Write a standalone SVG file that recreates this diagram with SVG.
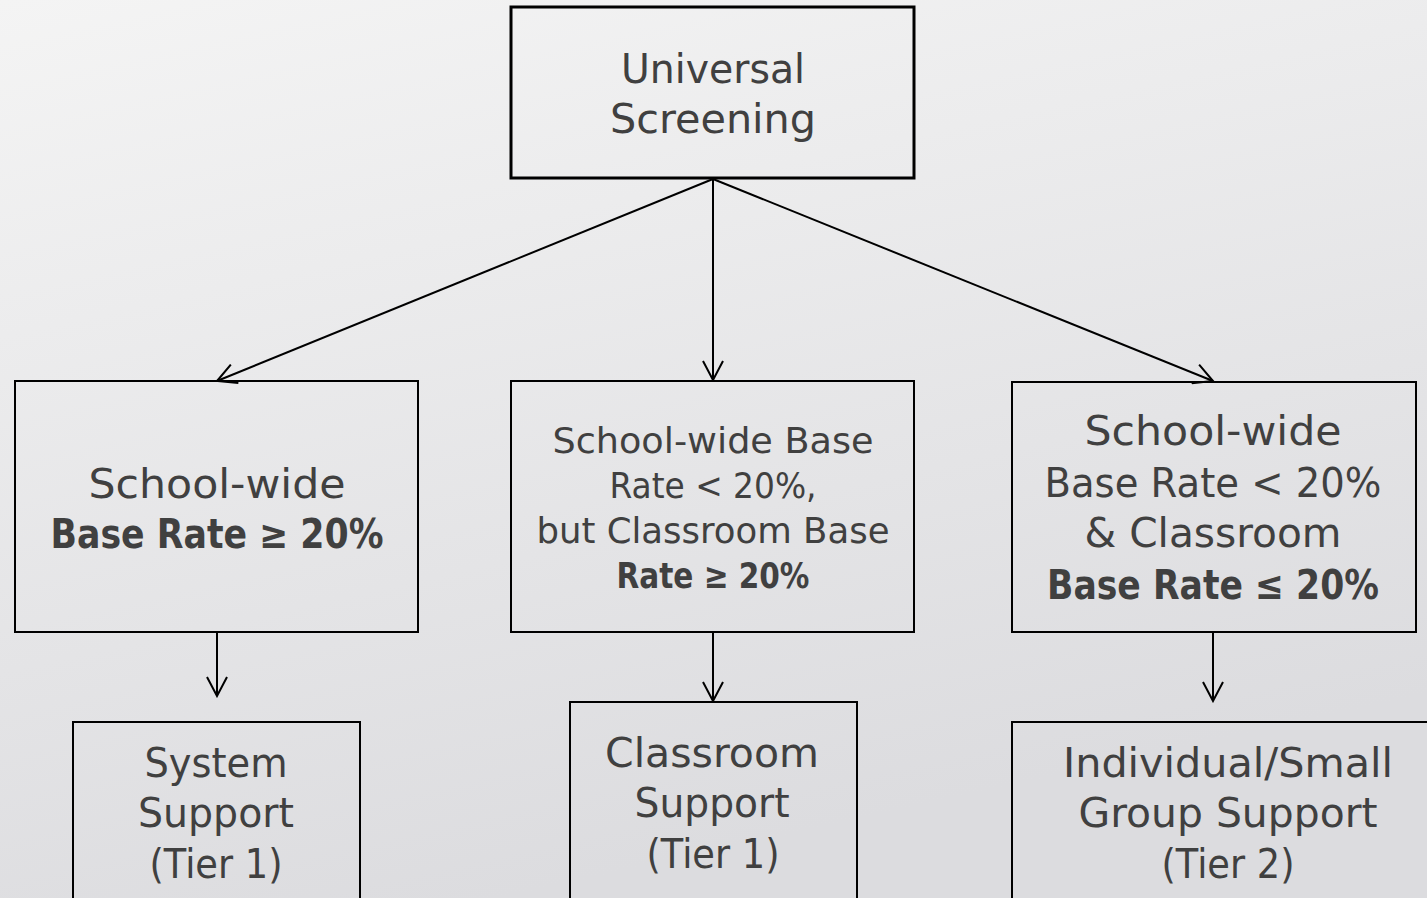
<svg xmlns="http://www.w3.org/2000/svg" width="1427" height="898" viewBox="0 0 1427 898">
  <defs>
    <linearGradient id="bg" x1="0" y1="0" x2="0.35" y2="1">
      <stop offset="0" stop-color="#f4f4f4"/>
      <stop offset="1" stop-color="#dcdcdf"/>
    </linearGradient>
    <marker id="arrow" markerUnits="userSpaceOnUse" viewBox="0 0 22 22" markerWidth="22" markerHeight="22" refX="20" refY="11" orient="auto">
      <path d="M1,1 L20,11 L1,21" fill="none" stroke="#000" stroke-width="2"/>
    </marker>
    <style>
      .box { fill: none; stroke: #000; stroke-width: 2; }
      .box-top { fill: none; stroke: #000; stroke-width: 3; }
      .lbl { font-family: "DejaVu Sans", "Liberation Sans", sans-serif; fill: #404040; text-anchor: middle; font-size: 40px; }
      .sm { font-size: 36px; }
      .b { font-weight: bold; }
      .edge { stroke: #000; stroke-width: 2; fill: none; marker-end: url(#arrow); }
    </style>
  </defs>

  <rect width="1427" height="898" fill="url(#bg)"/>

  <!-- connectors -->
  <g id="connectors">
    <line class="edge" x1="713" y1="179" x2="217" y2="381"/>
    <line class="edge" x1="713" y1="179" x2="713" y2="380"/>
    <line class="edge" x1="713" y1="179" x2="1213" y2="381"/>
    <line class="edge" x1="217" y1="632" x2="217" y2="696"/>
    <line class="edge" x1="713" y1="632" x2="713" y2="701"/>
    <line class="edge" x1="1213" y1="632" x2="1213" y2="701"/>
  </g>

  <g id="universal-screening">
    <rect class="box-top" x="511" y="7" width="403" height="171"/>
    <text class="lbl" x="713" y="83" textLength="184" lengthAdjust="spacingAndGlyphs">Universal</text>
    <text class="lbl" x="713" y="133" textLength="206" lengthAdjust="spacingAndGlyphs">Screening</text>
  </g>

  <g id="schoolwide-high">
    <rect class="box" x="15" y="381" width="403" height="251"/>
    <text class="lbl" x="217" y="498" textLength="257" lengthAdjust="spacingAndGlyphs">School-wide</text>
    <text class="lbl b" x="217" y="548" textLength="333" lengthAdjust="spacingAndGlyphs">Base Rate ≥ 20%</text>
  </g>

  <g id="classroom-high">
    <rect class="box" x="511" y="381" width="403" height="251"/>
    <text class="lbl sm" x="713" y="453" textLength="321" lengthAdjust="spacingAndGlyphs">School-wide Base</text>
    <text class="lbl sm" x="713" y="498" textLength="207" lengthAdjust="spacingAndGlyphs">Rate &lt; 20%,</text>
    <text class="lbl sm" x="713" y="543" textLength="353" lengthAdjust="spacingAndGlyphs">but Classroom Base</text>
    <text class="lbl sm b" x="713" y="588" textLength="193" lengthAdjust="spacingAndGlyphs">Rate ≥ 20%</text>
  </g>

  <g id="both-low">
    <rect class="box" x="1012" y="382" width="404" height="250"/>
    <text class="lbl" x="1213" y="445" textLength="257" lengthAdjust="spacingAndGlyphs">School-wide</text>
    <text class="lbl" x="1213" y="497" textLength="337" lengthAdjust="spacingAndGlyphs">Base Rate &lt; 20%</text>
    <text class="lbl" x="1213" y="547" textLength="257" lengthAdjust="spacingAndGlyphs">&amp; Classroom</text>
    <text class="lbl b" x="1213" y="599" textLength="332" lengthAdjust="spacingAndGlyphs">Base Rate ≤ 20%</text>
  </g>

  <g id="system-support">
    <rect class="box" x="73" y="722" width="287" height="190"/>
    <text class="lbl" x="216" y="777" textLength="143" lengthAdjust="spacingAndGlyphs">System</text>
    <text class="lbl" x="216" y="827" textLength="156" lengthAdjust="spacingAndGlyphs">Support</text>
    <text class="lbl" x="216" y="878" textLength="133" lengthAdjust="spacingAndGlyphs">(Tier 1)</text>
  </g>

  <g id="classroom-support">
    <rect class="box" x="570" y="702" width="287" height="210"/>
    <text class="lbl" x="712" y="767" textLength="214" lengthAdjust="spacingAndGlyphs">Classroom</text>
    <text class="lbl" x="712" y="817" textLength="155" lengthAdjust="spacingAndGlyphs">Support</text>
    <text class="lbl" x="713" y="868" textLength="133" lengthAdjust="spacingAndGlyphs">(Tier 1)</text>
  </g>

  <g id="individual-support">
    <rect class="box" x="1012" y="722" width="430" height="190"/>
    <text class="lbl" x="1228" y="777" textLength="330" lengthAdjust="spacingAndGlyphs">Individual/Small</text>
    <text class="lbl" x="1228" y="827" textLength="299" lengthAdjust="spacingAndGlyphs">Group Support</text>
    <text class="lbl" x="1228" y="878" textLength="133" lengthAdjust="spacingAndGlyphs">(Tier 2)</text>
  </g>
</svg>
